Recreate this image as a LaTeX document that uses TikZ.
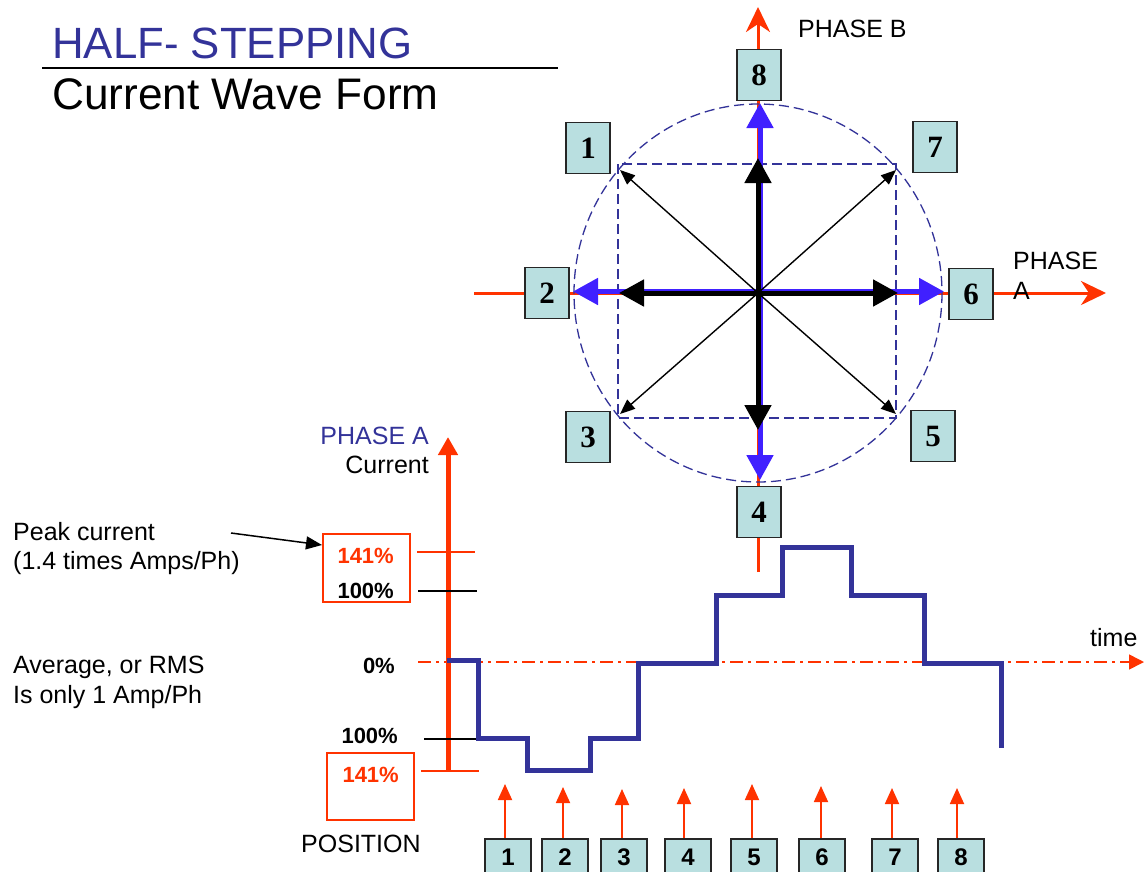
\documentclass[tikz,border=0pt]{standalone}
\usepackage{fontspec}
\setmainfont{Liberation Sans}
\newfontfamily\timesfont{Liberation Serif}
\usetikzlibrary{arrows.meta}
\definecolor{ored}{HTML}{FF3300}
\definecolor{navy}{HTML}{333399}
\definecolor{vblue}{HTML}{4020FF}
\definecolor{boxfill}{HTML}{B9DFE0}
\begin{document}
\begin{tikzpicture}[x=1pt,y=-1pt,
  lbl/.style={font=\fontsize{25}{30}\selectfont, inner sep=0pt},
  pct/.style={font=\fontsize{22}{26}\selectfont\bfseries, inner sep=0pt},
  vbox/.style={draw=black!85, line width=1.6pt, fill=boxfill, minimum width=44pt, minimum height=51pt, inner sep=0pt, font=\timesfont\fontsize{31}{31}\selectfont\bfseries},
  pbox/.style={draw=black!85, line width=1.6pt, fill=boxfill, minimum width=46pt, minimum height=50pt, inner sep=0pt, anchor=north},
  pdig/.style={inner sep=0pt, anchor=base, font=\fontsize{24}{24}\selectfont\bfseries},
  redaxis/.style={ored, line width=3pt, -{Stealth[length=25pt,width=24pt,inset=8pt]}},
  guide/.style={navy, line width=1.3pt, dash pattern=on 10pt off 5pt},
  bluearr/.style={vblue, line width=5pt, -{Triangle[length=25pt,width=26pt]}},
  blackarr/.style={black, line width=5pt, -{Triangle[length=25pt,width=26pt]}},
  thinarr/.style={black, line width=1.4pt, -{Triangle[length=15pt,width=12pt]}},
  posarr/.style={ored, line width=1.8pt, -{Triangle[length=16pt,width=14pt]}},
  tick/.style={line width=1.8pt},
  wave/.style={navy, line width=5pt, line join=miter}
]
\clip (0,0) rectangle (1144,871);
\fill[white] (0,0) rectangle (1144,871);

% ---------- title ----------
\node[anchor=base west, inner sep=0pt, text=navy, font=\fontsize{43.8}{44}\selectfont] (title) at (52,58) {HALF- STEPPING};
\node[anchor=base west, inner sep=0pt, font=\fontsize{44.2}{44}\selectfont] (subtitle) at (52,109) {Current Wave Form};
\coordinate (ulA) at (42,68);
\coordinate (ulB) at (558,68);
\draw[line width=2pt] (ulA) -- (ulB);

% ---------- phase diagram ----------
\coordinate (O) at (758,293);
\coordinate (axL) at (474,293);
\coordinate (axR) at (1106,293);
\coordinate (axB) at (758,572);
\coordinate (axT) at (758,7);
\draw[redaxis] (axL) -- (axR);
\draw[redaxis] (axB) -- (axT);

\draw[guide] (O) ellipse [x radius=184, y radius=189];
\draw[guide] (618,164) rectangle (896,418);

\coordinate (bU) at (758,103);
\coordinate (bD) at (758,480);
\coordinate (bL) at (573,293);
\coordinate (bR) at (944,293);
\draw[bluearr] ([xshift=2pt]O) -- ([xshift=2pt]bU);
\draw[bluearr] ([xshift=2pt]O) -- ([xshift=2pt]bD);
\draw[bluearr] ([yshift=1.5pt]O) -- ([yshift=1.5pt]bL);
\draw[bluearr] ([yshift=1.5pt]O) -- ([yshift=1.5pt]bR);

\coordinate (kU) at (758,158);
\coordinate (kD) at (758,430);
\coordinate (kL) at (619,293);
\coordinate (kR) at (898,293);
\draw[blackarr] (O) -- (kU);
\draw[blackarr] (O) -- (kD);
\draw[blackarr] (O) -- (kL);
\draw[blackarr] (O) -- (kR);

\coordinate (d1) at (620,170);
\coordinate (d7) at (896,170);
\coordinate (d3) at (620,414);
\coordinate (d5) at (896,414);
\draw[thinarr] (O) -- (d1);
\draw[thinarr] (O) -- (d7);
\draw[thinarr] (O) -- (d3);
\draw[thinarr] (O) -- (d5);

\node[vbox] (b8) at (759,75) {8};
\node[vbox] (b1) at (588,148) {1};
\node[vbox] (b7) at (935,147) {7};
\node[vbox] (b2) at (547,293) {2};
\node[vbox] (b6) at (971,294) {6};
\node[vbox] (b3) at (588,437) {3};
\node[vbox] (b5) at (933,436) {5};
\node[vbox] (b4) at (759,512) {4};

\node[lbl, anchor=base west] (phB) at (798,37) {PHASE B};
\node[lbl, anchor=base west] (phA1) at (1013,269) {PHASE};
\node[lbl, anchor=base west] (phA2) at (1013,299) {A};

% ---------- current chart ----------
\coordinate (c0) at (448,771);
\coordinate (cT) at (448,437);
\draw[ored, line width=5pt, -{Triangle[length=18pt,width=19pt]}] (c0) -- (cT);

\coordinate (t1a) at (417,552); \coordinate (t1b) at (475,552);
\coordinate (t2a) at (418,591); \coordinate (t2b) at (477,591);
\coordinate (t3a) at (424,739); \coordinate (t3b) at (477,739);
\coordinate (t4a) at (421,771); \coordinate (t4b) at (479,771);
\draw[tick, ored] (t1a) -- (t1b);
\draw[tick, black] (t2a) -- (t2b);
\draw[tick, black] (t3a) -- (t3b);
\draw[tick, ored] (t4a) -- (t4b);

\coordinate (z0) at (418,662);
\coordinate (z1) at (1144,662);
\draw[ored, line width=1.6pt, dash pattern=on 13pt off 5pt on 3pt off 5pt, -{Triangle[length=15pt,width=15pt]}] (z0) -- (z1);

\draw[wave] (447,660) -- (478,660) -- (478,738) -- (527,738) -- (527,770) -- (590,770) -- (590,738) -- (638,738) -- (638,663) -- (716,663) -- (716,595) -- (782,595) -- (782,547) -- (851,547) -- (851,595) -- (924,595) -- (924,663) -- (1001,663) -- (1001,748);

\node[lbl, anchor=base east, text=navy] (yPh) at (429,444) {PHASE A};
\node[lbl, anchor=base east] (yCur) at (429,473) {Current};
\node[lbl, anchor=base west] (time) at (1090,646) {time};

\node[draw=ored, line width=1.5pt, minimum width=87pt, minimum height=68pt, inner sep=0pt, anchor=north west] (peakbox) at (322,533) {};
\node[draw=ored, line width=1.5pt, minimum width=87pt, minimum height=67pt, inner sep=0pt, anchor=north west] (negbox) at (326,752) {};

\node[pct, anchor=base east, text=ored] (p141a) at (394,563) {141\%};
\node[pct, anchor=base east] (p100a) at (394,598) {100\%};
\node[pct, anchor=base east] (p0) at (395,673) {0\%};
\node[pct, anchor=base east] (p100b) at (398,743) {100\%};
\node[pct, anchor=base east, text=ored] (p141b) at (399,782) {141\%};

\node[lbl, anchor=base west] (pk1) at (13,540) {Peak current};
\node[lbl, anchor=base west] (pk2) at (13,569) {(1.4 times Amps/Ph)};
\node[lbl, anchor=base west] (av1) at (13,673) {Average, or RMS};
\node[lbl, anchor=base west] (av2) at (13,703) {Is only 1 Amp/Ph};
\node[lbl, anchor=base west] (posl) at (301,852) {POSITION};

\coordinate (pkS) at (231,533);
\draw[black, line width=1.5pt, -{Triangle[length=16pt,width=13pt]}] (pkS) -- (peakbox.north west |- 0,545);

% ---------- positions ----------
\node[pbox] (q1) at (508,838) {};
\node[pbox] (q2) at (565,838) {};
\node[pbox] (q3) at (624,838) {};
\node[pbox] (q4) at (688,838) {};
\node[pbox] (q5) at (754,838) {};
\node[pbox] (q6) at (822,838) {};
\node[pbox] (q7) at (895,838) {};
\node[pbox] (q8) at (961,838) {};
\node[pdig] (n1) at (508,865) {1};
\node[pdig] (n2) at (565,865) {2};
\node[pdig] (n3) at (624,865) {3};
\node[pdig] (n4) at (688,865) {4};
\node[pdig] (n5) at (754,865) {5};
\node[pdig] (n6) at (822,865) {6};
\node[pdig] (n7) at (895,865) {7};
\node[pdig] (n8) at (961,865) {8};

\coordinate (a1) at (505,784);
\coordinate (a2) at (563,787);
\coordinate (a3) at (622,789);
\coordinate (a4) at (684,788);
\coordinate (a5) at (752,784);
\coordinate (a6) at (821,786);
\coordinate (a7) at (892,788);
\coordinate (a8) at (957,788);
\draw[posarr] (q1.north -| a1) -- (a1);
\draw[posarr] (q2.north -| a2) -- (a2);
\draw[posarr] (q3.north -| a3) -- (a3);
\draw[posarr] (q4.north -| a4) -- (a4);
\draw[posarr] (q5.north -| a5) -- (a5);
\draw[posarr] (q6.north -| a6) -- (a6);
\draw[posarr] (q7.north -| a7) -- (a7);
\draw[posarr] (q8.north -| a8) -- (a8);
\end{tikzpicture}
\end{document}
